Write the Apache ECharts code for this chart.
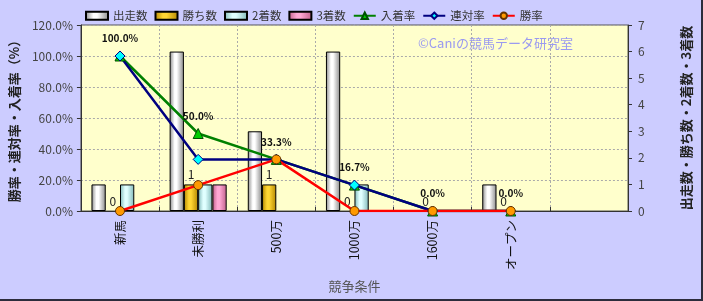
<!DOCTYPE html>
<html><head><meta charset="utf-8">
<script src="https://cdn.jsdelivr.net/npm/echarts@6/dist/echarts.min.js"></script>
<style>html,body{margin:0;padding:0;background:#fff}#c{width:703px;height:301px;box-sizing:border-box;border-right:2px solid #2c2c3c;border-bottom:2px solid #2c2c3c;background:#ccccff}</style>
</head><body><div id="c"></div>
<script>
const categories = ['新馬','未勝利','500万','1000万','1600万','オープン',''];
const starts  = [1, 6, 3, 6, 0, 1, null];
const wins    = [0, 1, 1, 0, 0, 0, null];
const seconds = [1, 1, 0, 1, 0, 0, null];
const thirds  = [0, 1, 0, 0, 0, 0, null];
const placeRate = [100.0, 50.0, 33.3, 16.7, 0.0, 0.0, null];
const rentaiRate = [100.0, 33.3, 33.3, 16.7, 0.0, 0.0, null];
const winRate = [0.0, 16.7, 33.3, 0.0, 0.0, 0.0, null];
const leftTicks = {min:0, max:120, interval:20};
const rightTicks = {min:0, max:7, interval:1};

const FONT = '"Noto Sans CJK JP", sans-serif';
function grad(edge, mid){
  return new echarts.graphic.LinearGradient(0,0,1,0,[
    {offset:0,color:edge},{offset:0.35,color:mid},{offset:0.5,color:mid},{offset:1,color:edge}]);
}
const barStyle = (edge, mid) => ({color: grad(edge, mid), borderColor:'#000', borderWidth:1});
// zero-height bars are not drawn with a border
const noZero = arr => arr.map(v => v === 0 ? {value:0, itemStyle:{borderWidth:0, opacity:0}} : v);
const chart = echarts.init(document.getElementById('c'), null, {renderer:'canvas'});
chart.setOption({
  animation:false,
  textStyle:{fontFamily:FONT},
  legend:{
    left:80, top:5, itemWidth:22, itemHeight:8, itemGap:7,
    textStyle:{fontFamily:FONT, fontSize:11.5, color:'#333'},
    data:[{name:'出走数',icon:'rect'},{name:'勝ち数',icon:'rect'},{name:'2着数',icon:'rect'},{name:'3着数',icon:'rect'},'入着率','連対率','勝率']
  },
  grid:{left:77, right:70, top:25, bottom:88, show:true, backgroundColor:'#ffffcc', borderColor:'#555', borderWidth:1},
  graphic:[{type:'text', left:418, top:37, style:{text:'©Caniの競馬データ研究室', fill:'#9a9af0', font:'13px '+FONT}}],
  xAxis:{
    type:'category', data:categories, boundaryGap:true,
    name:'競争条件', nameLocation:'middle', nameGap:69,
    nameTextStyle:{fontSize:13, color:'#555', fontFamily:FONT},
    axisLine:{lineStyle:{color:'#333'}},
    axisTick:{show:true, inside:true, length:4, lineStyle:{color:'#333'}},
    axisLabel:{rotate:90, fontSize:12.5, color:'#111', margin:9, fontFamily:FONT},
    splitLine:{show:true, lineStyle:{type:[2,2], color:'#aaa'}}
  },
  yAxis:[{
    type:'value', min:leftTicks.min, max:leftTicks.max, interval:leftTicks.interval, position:'left',
    name:'勝率・連対率・入着率（%）', nameLocation:'middle', nameRotate:90, nameGap:58,
    nameTextStyle:{fontSize:13, color:'#222', fontWeight:'bold', fontFamily:FONT},
    axisLine:{show:true, lineStyle:{color:'#333'}},
    axisTick:{show:true, length:4, lineStyle:{color:'#333'}},
    axisLabel:{fontSize:12, color:'#444', margin:8, formatter:v=>v.toFixed(1)+'%'},
    splitLine:{show:true, lineStyle:{type:[2,2], color:'#aaa'}}
  },{
    type:'value', min:rightTicks.min, max:rightTicks.max, interval:rightTicks.interval, position:'right',
    name:'出走数・勝ち数・2着数・3着数', nameLocation:'middle', nameRotate:90, nameGap:52,
    nameTextStyle:{fontSize:13, color:'#222', fontWeight:'bold', fontFamily:FONT},
    axisLine:{show:true, lineStyle:{color:'#333'}},
    axisTick:{show:true, length:4, lineStyle:{color:'#333'}},
    axisLabel:{fontSize:12, color:'#444', margin:10},
    splitLine:{show:false}
  }],
  series:[
    {name:'出走数', type:'bar', yAxisIndex:1, data:noZero(starts), barGap:'0%', barCategoryGap:'27%', itemStyle:barStyle('#8a8a8a','#ffffff')},
    {name:'勝ち数', type:'bar', yAxisIndex:1, data:wins.map(v => v === 0 ? {value:0, itemStyle:{borderWidth:0, color:'rgba(0,0,0,0)'}} : v), itemStyle:barStyle('#b38600','#ffd633'),
      label:{show:true, position:'top', distance:4, fontSize:12, color:'#222', fontFamily:FONT}},
    {name:'2着数', type:'bar', yAxisIndex:1, data:noZero(seconds), itemStyle:barStyle('#7fb8b8','#e0ffff')},
    {name:'3着数', type:'bar', yAxisIndex:1, data:noZero(thirds), itemStyle:barStyle('#c0608a','#ffa8d4')},
    {name:'入着率', type:'line', yAxisIndex:0, data:placeRate, symbol:'triangle', symbolSize:10,
      lineStyle:{color:'#008000', width:2.5}, itemStyle:{color:'#00cc00', borderColor:'#005000', borderWidth:1},
      label:{show:true, position:'top', distance:7, fontSize:10, fontWeight:'bold', color:'#111', formatter:p=>p.value.toFixed(1)+'%'}},
    {name:'連対率', type:'line', yAxisIndex:0, data:rentaiRate, symbol:'diamond', symbolSize:10,
      lineStyle:{color:'#000080', width:2.5}, itemStyle:{color:'#00ffff', borderColor:'#000080', borderWidth:1}},
    {name:'勝率', type:'line', yAxisIndex:0, data:winRate, symbol:'circle', symbolSize:9,
      lineStyle:{color:'#ff0000', width:2.5}, itemStyle:{color:'#ff9900', borderColor:'#663300', borderWidth:1}}
  ]
});
</script></body></html>
